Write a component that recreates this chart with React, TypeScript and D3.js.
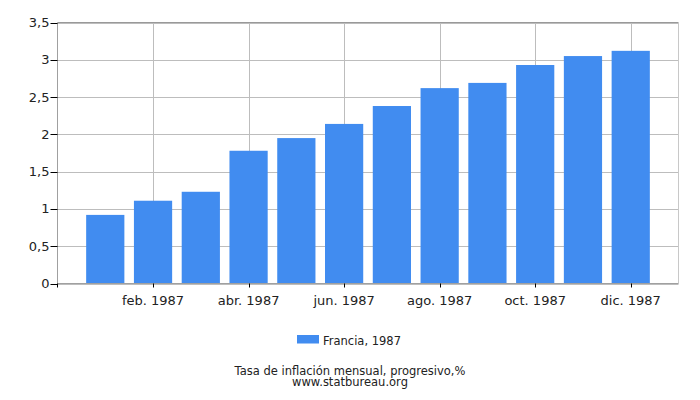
import React from "react";
import * as d3 from "d3";

const months = ["ene. 1987","feb. 1987","mar. 1987","abr. 1987","may. 1987","jun. 1987","jul. 1987","ago. 1987","sep. 1987","oct. 1987","nov. 1987","dic. 1987"];
const values = [0.92, 1.11, 1.23, 1.78, 1.95, 2.14, 2.38, 2.62, 2.69, 2.93, 3.05, 3.12];
const yTicks = [0, 0.5, 1, 1.5, 2, 2.5, 3, 3.5];
const xTickIdx = [1, 3, 5, 7, 9, 11];
const seriesName = "Francia, 1987";
const title = "Tasa de inflación mensual, progresivo,%";
const source = "www.statbureau.org";

const W = 700, H = 400;
const L = 57.5, R = 678.5, T = 22.5, B = 283.5;
const FONT = "DejaVu Sans, Verdana, sans-serif";

export default function App() {
  const x = d3.scaleLinear().domain([-1, 12]).range([L, R]);
  const y = d3.scaleLinear().domain([0, 3.5]).range([B, T]);
  const bw = (x(1) - x(0)) * 0.8;
  const fmt = (v: number) => String(v).replace(".", ",");
  return (
    <svg width={W} height={H} style={{ position: "absolute", left: 0, top: 0, background: "#fff" }} fontFamily={FONT}>
      {yTicks.map((t) => (
        <line key={"gy" + t} x1={L} x2={R} y1={Math.round(y(t)) + 0.5} y2={Math.round(y(t)) + 0.5} stroke="#bdbdbd" strokeWidth={1} />
      ))}
      {xTickIdx.map((i) => (
        <line key={"gx" + i} x1={Math.round(x(i)) + 0.5} x2={Math.round(x(i)) + 0.5} y1={T} y2={B} stroke="#bdbdbd" strokeWidth={1} />
      ))}
      <line x1={L} x2={R} y1={T} y2={T} stroke="#999" />
      <line x1={R} x2={R} y1={T} y2={B} stroke="#c8c8c8" />
      {values.map((v, i) => (
        <rect key={"b" + i} x={x(i) - bw / 2} y={y(v)} width={bw} height={y(0) - y(v)} fill="#418cf0" />
      ))}
      <line x1={L} x2={L} y1={T} y2={B} stroke="#a0a0a0" />
      <line x1={L} x2={R} y1={B} y2={B} stroke="#a0a0a0" />
      {yTicks.map((t) => (
        <g key={"ty" + t}>
          <line x1={L - 7} x2={L} y1={Math.round(y(t)) + 0.5} y2={Math.round(y(t)) + 0.5} stroke="#000" />
          <text x={L - 8} y={y(t)} dy="0.35em" textAnchor="end" fontSize={13} fill="#222">{fmt(t)}</text>
        </g>
      ))}
      <line x1={L} x2={L} y1={B} y2={B + 4} stroke="#000" />
      {xTickIdx.map((i) => (
        <g key={"tx" + i}>
          <line x1={Math.round(x(i)) + 0.5} x2={Math.round(x(i)) + 0.5} y1={B} y2={B + 4} stroke="#000" />
          <text x={x(i)} y={305} textAnchor="middle" fontSize={13} fill="#222">{months[i]}</text>
        </g>
      ))}
      <rect x={297} y={335} width={22} height={8.5} fill="#418cf0" />
      <text x={323} y={345} fontSize={11.5} fill="#222">{seriesName}</text>
      <text x={350} y={375} textAnchor="middle" fontSize={11.5} fill="#222">{title}</text>
      <text x={350} y={386} textAnchor="middle" fontSize={11.5} fill="#222">{source}</text>
    </svg>
  );
}
